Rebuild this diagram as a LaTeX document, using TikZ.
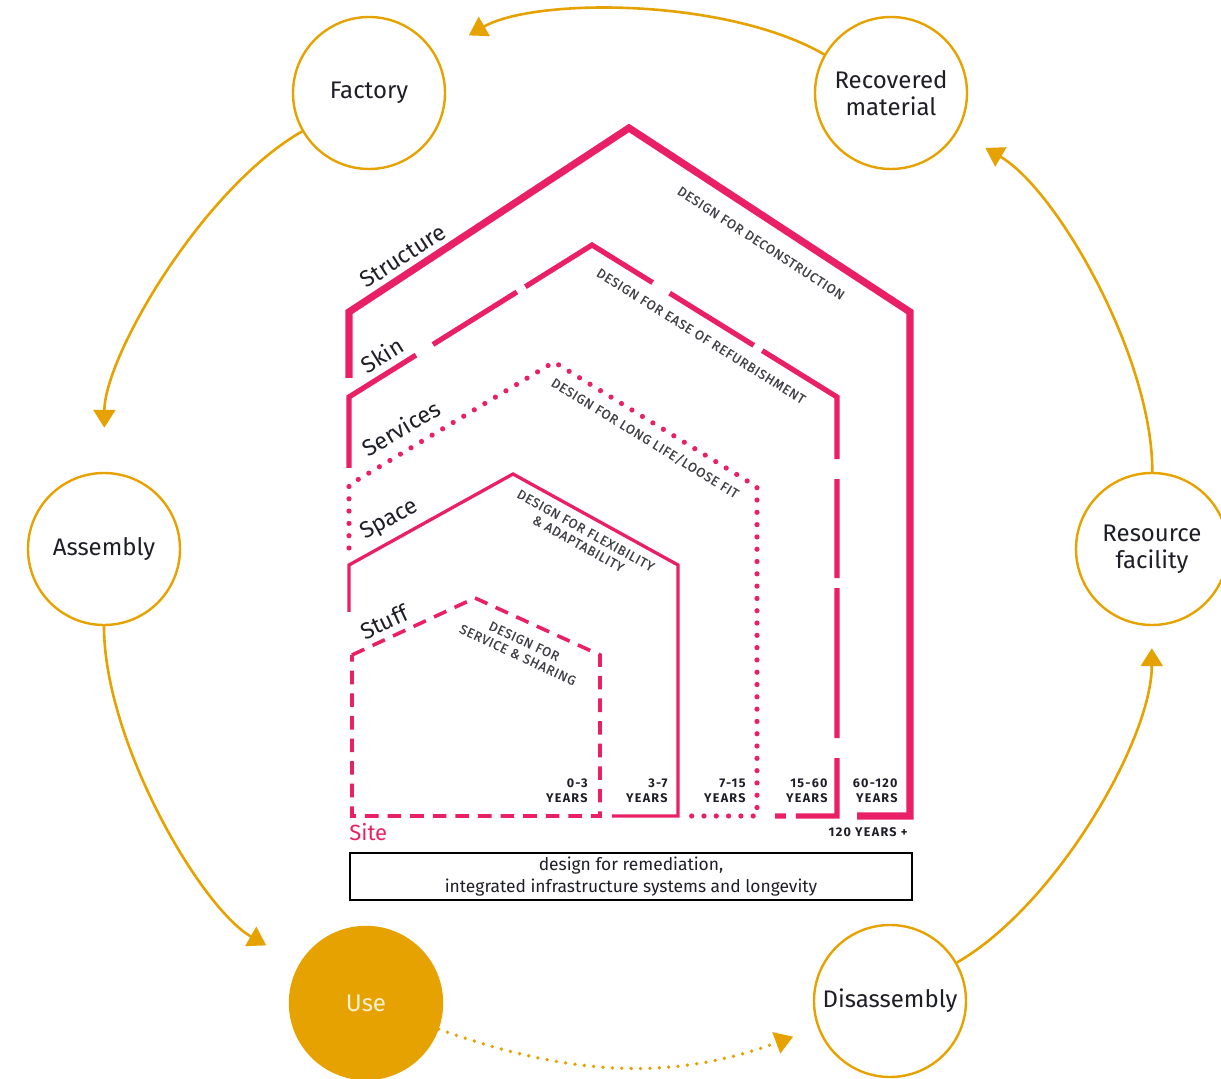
\documentclass[tikz,border=0pt]{standalone}
\usepackage{fontspec}
\setmainfont{Fira Sans}
\newfontfamily\capsfont[LetterSpace=5,FakeBold=0.6]{Fira Sans}
\newfontfamily\yearsfont[LetterSpace=10]{Fira Sans}
\usetikzlibrary{arrows.meta}
\definecolor{amber}{RGB}{230,162,0}
\definecolor{rose}{RGB}{233,32,101}
\definecolor{ink}{RGB}{30,30,40}
\definecolor{cream}{RGB}{255,240,210}

\begin{document}
\begin{tikzpicture}[x=0.5pt,y=-0.5pt,
    stage/.style={circle,draw=amber,line width=1.2pt,minimum size=76pt,inner sep=0pt,
      align=center,text=ink,font=\fontsize{12}{13.5}\selectfont},
    flow/.style={amber,line width=1.3pt,looseness=0.75,-{Triangle[length=9pt,width=11pt]}},
    layer/.style={text=ink,inner sep=0pt,font=\fontsize{11.5}{13}\selectfont},
    hint/.style={text=ink!85,inner sep=0pt,align=center,font=\capsfont\fontsize{6.6}{7.6}\selectfont},
    years/.style={text=ink,inner sep=0pt,align=right,anchor=south east,
      font=\yearsfont\bfseries\fontsize{6.3}{7.6}\selectfont}]
  \useasboundingbox (0,0) rectangle (1221,1079);

  % life cycle
  \node[stage] (factory) at (369,93) {Factory};
  \node[stage] (recovered) at (891,93) {Recovered\\material};
  \node[stage] (assembly) at (104,549) {Assembly};
  \node[stage] (resource) at (1152,549) {Resource\\facility};
  \node[stage,fill=amber,text=cream] (use) at (366,1003) {Use};
  \node[stage] (disassembly) at (890,1001) {Disassembly};

  \draw[flow,shorten >=19pt] (recovered) to[bend right=30] (factory);
  \draw[flow,shorten >=22pt] (factory) to[bend right=30] (assembly);
  \draw[flow,shorten >=19pt] (assembly) to[bend right=30] (use);
  \draw[flow,looseness=1,line width=1.9pt,line cap=round,dash pattern=on 0pt off 4.7pt,shorten >=13pt]
    (use) to[bend right=20] (disassembly);
  \draw[flow,shorten >=11pt] (disassembly) to[bend right=30] (resource);
  \draw[flow,shorten >=16pt] (resource) to[bend right=30] (recovered);

  % shearing layers
  \draw[rose,line width=3.6pt] (349,378) -- (349,312) -- (629,128) -- (910,312) -- (910,816) -- (857,816);
  \draw[rose,line width=2.6pt,dash pattern=on 75pt off 10pt on 49.5pt off 5pt]
    (349,468) -- (349,397) -- (592,245) -- (837,397) -- (837,816) -- (775,816);
  \draw[rose,line width=2.6pt,line cap=round,dash pattern=on 0pt off 6.15pt]
    (349,548) -- (349,485) -- (554,362) -- (757,487) -- (757,816) -- (690,816);
  \draw[rose,line width=1.65pt] (349,612) -- (349,565) -- (513,474) -- (678,565) -- (678,816) -- (612,816);
  \draw[rose,line width=1.8pt,dash pattern=on 6.8pt off 4.5pt]
    (352,655) -- (475,598) -- (600,655) -- (600,816) -- (352,816) -- cycle;

  \node[layer,rotate=33] (structure) at (403,256) {Structure};
  \node[layer,rotate=32] (skin) at (382,355) {Skin};
  \node[layer,rotate=31] (services) at (401,428) {Services};
  \node[layer,rotate=29] (space) at (390,520) {Space};
  \node[layer,rotate=25] (stuff) at (384,622) {Stuff};

  \node[hint,rotate=-33] (deconstruction) at (761,243) {DESIGN FOR DECONSTRUCTION};
  \node[hint,rotate=-32] (refurbishment) at (701,336) {DESIGN FOR EASE OF REFURBISHMENT};
  \node[hint,rotate=-31.5] (loosefit) at (645,438) {DESIGN FOR LONG LIFE/LOOSE FIT};
  \node[hint,rotate=-29] (flexibility) at (582,537) {DESIGN FOR FLEXIBILITY\\\& ADAPTABILITY};
  \node[hint,rotate=-25] (sharing) at (521,648) {DESIGN FOR\\SERVICE \& SHARING};

  \node[years] (y03) at (588,803) {0-3\\YEARS};
  \node[years] (y37) at (668,803) {3-7\\YEARS};
  \node[years] (y715) at (746,803) {7-15\\YEARS};
  \node[years] (y1560) at (828,803) {15-60\\YEARS};
  \node[years] (y60120) at (898,803) {60-120\\YEARS};
  \node[years] (y120) at (908,837) {120 YEARS +};

  % site
  \node[text=rose,inner sep=0pt,anchor=south west,font=\fontsize{11}{13}\selectfont] (site) at (349,841) {Site};
  \node[draw=black,line width=1pt,minimum width=281pt,minimum height=23.5pt,inner sep=0pt,
    align=center,text=ink,font=\fontsize{8.7}{11}\selectfont] (remedy) at (631,876.5)
    {design for remediation,\\integrated infrastructure systems and longevity};
\end{tikzpicture}
\end{document}
